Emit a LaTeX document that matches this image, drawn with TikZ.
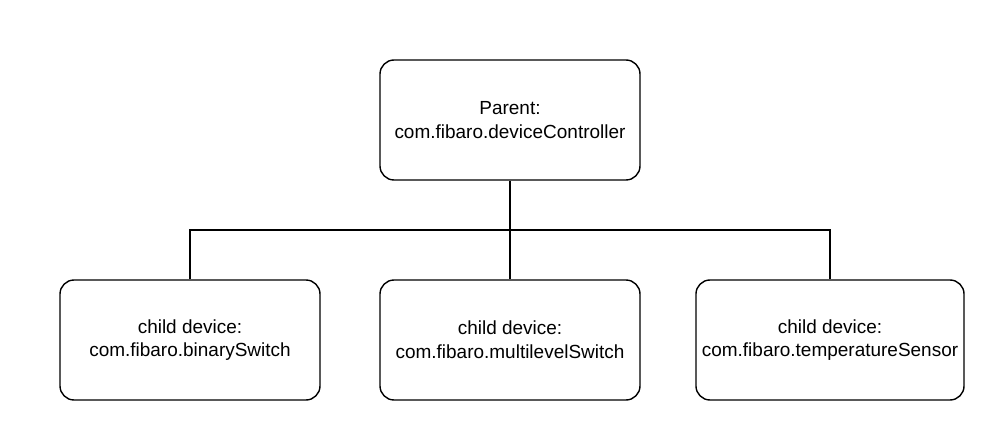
\documentclass[tikz,border=0pt]{standalone}
\usepackage{fontspec}
\setmainfont{Liberation Sans}
\usetikzlibrary{positioning}

\begin{document}
\begin{tikzpicture}[
  box/.style={rectangle, draw=black, thick, rounded corners=8pt, minimum width=5.2cm, minimum height=2.4cm, align=center, font=\fontsize{10.8}{13.5}\selectfont},
  link/.style={thick, draw=black}
]
  \useasboundingbox (0,0) rectangle (20,8.8);

  % Parent
  \node[box] (parent) at (10.2,6.4) {Parent:\\com.fibaro.deviceController};

  % Children
  \node[box] (multi)  at (10.2,2.0) {child device:\\com.fibaro.multilevelSwitch};
  \node[box] (binary) at (3.8,2.0)  {child device:\\com.fibaro.binarySwitch};
  \node[box] (temp)   at (16.6,2.0) {child device:\\com.fibaro.temperatureSensor};

  % Bus
  \coordinate (bus) at (10.2,4.2);
  \draw[link] (parent) -- (multi);
  \draw[link] (binary) |- (bus) -| (temp);
\end{tikzpicture}
\end{document}
